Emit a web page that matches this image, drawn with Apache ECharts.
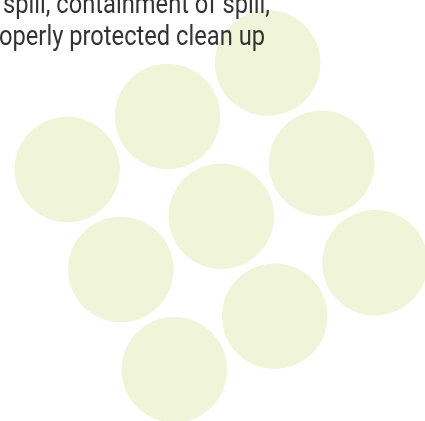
<!DOCTYPE html>
<html>
<head>
<meta charset="utf-8">
<script src="https://cdn.jsdelivr.net/npm/echarts@6/dist/echarts.min.js"></script>
<style>
html,body{margin:0;padding:0;background:#fff;}
#chart{width:425px;height:421px;}
</style>
</head>
<body>
<div id="chart"></div>
<script>
// Bubble centres (pixel-space units of the hidden axes)
const xValues = [267.7, 167.5, 67.2, 321.7, 221.3, 120.8, 375.0, 274.7, 174.3];
const yValues = [63.0, 116.5, 169.5, 163.2, 216.3, 269.5, 262.8, 316.2, 369.7];
const textLines = ['spill, containment of spill,', 'operly protected clean up'];

const FONT = '"Liberation Sans Narrow", "Roboto", sans-serif';
const FONT_SIZE = 28;
const cv = document.createElement('canvas').getContext('2d');
cv.font = FONT_SIZE + 'px ' + FONT;
const w2 = cv.measureText(textLines[1]).width;
const sx = 266 / w2;

const points = xValues.map((x, i) => [x, yValues[i]]);

const chart = echarts.init(document.getElementById('chart'), null, {renderer: 'canvas'});
chart.setOption({
  animation: false,
  grid: {left: 0, right: 0, top: 0, bottom: 0},
  xAxis: {type: 'value', min: 0, max: 425, show: false},
  yAxis: {type: 'value', min: 0, max: 421, inverse: true, show: false},
  series: [{
    type: 'scatter',
    data: points,
    symbol: 'circle',
    symbolSize: 105.5,
    itemStyle: {color: '#f0f5d9', opacity: 1},
    silent: true
  }],
  graphic: [
    {type: 'text', left: 3, top: -8, z: 100, scaleX: sx, originX: 0,
     style: {text: textLines[0], font: FONT_SIZE + 'px ' + FONT, fill: '#333333'}},
    {type: 'text', left: -1, top: 24, z: 100, scaleX: sx, originX: 0,
     style: {text: textLines[1], font: FONT_SIZE + 'px ' + FONT, fill: '#333333'}}
  ]
});
</script>
</body>
</html>
